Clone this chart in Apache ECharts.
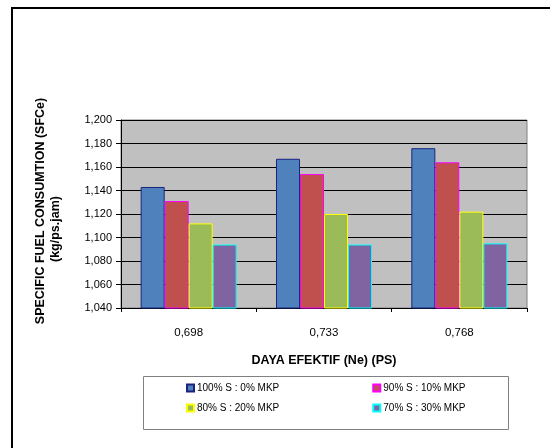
<!DOCTYPE html>
<html>
<head>
<meta charset="utf-8">
<script src="https://cdn.jsdelivr.net/npm/echarts@6/dist/echarts.min.js"></script>
<style>
  html, body { margin: 0; padding: 0; background: #fff; }
  #chart { width: 550px; height: 448px; }
</style>
</head>
<body>
<div id="chart"></div>
<script>
// data
var categories = ['0,698', '0,733', '0,768'];
var seriesNames = ['100% S : 0% MKP', '90% S : 10% MKP', '80% S : 20% MKP', '70% S : 30% MKP'];
var s100 = [1143, 1167, 1176];
var s90 = [1131, 1154, 1164];
var s80 = [1112, 1120, 1122];
var s70 = [1094, 1094, 1095];
var yTicks = { min: 1040, max: 1200, step: 20 };

var fills = ['#4F81BD', '#C0504D', '#9BBB59', '#8064A2'];
var edges = ['#1A237E', '#FF00FF', '#FFFF00', '#00FFFF'];
var font = 'Liberation Sans, Arial, sans-serif';

var myChart = echarts.init(document.getElementById('chart'));

function bar(i, data) {
  return {
    name: seriesNames[i],
    type: 'bar',
    data: data,
    barWidth: 24,
    barGap: '0%',
    itemStyle: { color: fills[i], borderColor: edges[i], borderWidth: 1 }
  };
}

//两个图例 每个两项
function legendRow(names, top) {
  return {
    data: names,
    left: 186,
    top: top,
    orient: 'horizontal',
    itemWidth: 7,
    itemHeight: 7,
    itemGap: 93,
    icon: 'rect',
    padding: 0,
    textStyle: { fontFamily: font, fontSize: 10, color: '#000', padding: [0, 0, 0, -2] }
  };
}

var option = {
  backgroundColor: '#fff',
  animation: false,
  grid: {
    left: 121, right: 23, top: 120, bottom: 140,
    show: true,
    backgroundColor: '#C0C0C0',
    borderColor: '#808080',
    borderWidth: 1
  },
  legend: [legendRow([seriesNames[0], seriesNames[1]], 383), legendRow([seriesNames[2], seriesNames[3]], 403)],
  xAxis: {
    type: 'category',
    data: categories,
    axisLine: { lineStyle: { color: '#000', width: 1 } },
    axisTick: { show: true, length: 4, lineStyle: { color: '#000' } },
    axisLabel: { fontFamily: font, fontSize: 11.5, color: '#000', margin: 19 },
    name: 'DAYA EFEKTIF (Ne) (PS)',
    nameLocation: 'middle',
    nameGap: 46,
    nameTextStyle: { fontFamily: font, fontSize: 12.5, fontWeight: 'bold', color: '#000' }
  },
  yAxis: {
    type: 'value',
    min: yTicks.min,
    max: yTicks.max,
    interval: yTicks.step,
    axisLine: { show: true, lineStyle: { color: '#000', width: 1 } },
    axisTick: { show: true, length: 5, inside: false, lineStyle: { color: '#000' } },
    splitLine: { show: true, lineStyle: { color: '#000', width: 1 } },
    axisLabel: {
      fontFamily: font, fontSize: 11, color: '#000', margin: 9,
      formatter: function (v) {
        var s = String(v);
        return s.slice(0, 1) + ',' + s.slice(1);
      }
    }
  },
  series: [bar(0, s100), bar(1, s90), bar(2, s80), bar(3, s70)],
  graphic: [
    // 外框
    { type: 'rect', shape: { x: 12, y: 8, width: 600, height: 500 }, style: { fill: 'none', stroke: '#000', lineWidth: 2 }, silent: true },
    // 图例框
    { type: 'rect', shape: { x: 143.5, y: 376.5, width: 365, height: 53 }, style: { fill: 'none', stroke: '#808080', lineWidth: 1 }, silent: true },
    // y轴标题
    {
      type: 'text', x: 41, y: 211, rotation: Math.PI / 2,
      style: { text: 'SPECIFIC FUEL CONSUMTION (SFCe)', fontFamily: font, fontSize: 12.5, fontWeight: 'bold', fill: '#000', align: 'center', verticalAlign: 'middle' }
    },
    {
      type: 'text', x: 56, y: 229, rotation: Math.PI / 2,
      style: { text: '(kg/ps.jam)', fontFamily: font, fontSize: 12.5, fontWeight: 'bold', fill: '#000', align: 'center', verticalAlign: 'middle' }
    }
  ]
};

myChart.setOption(option);
</script>
</body>
</html>
